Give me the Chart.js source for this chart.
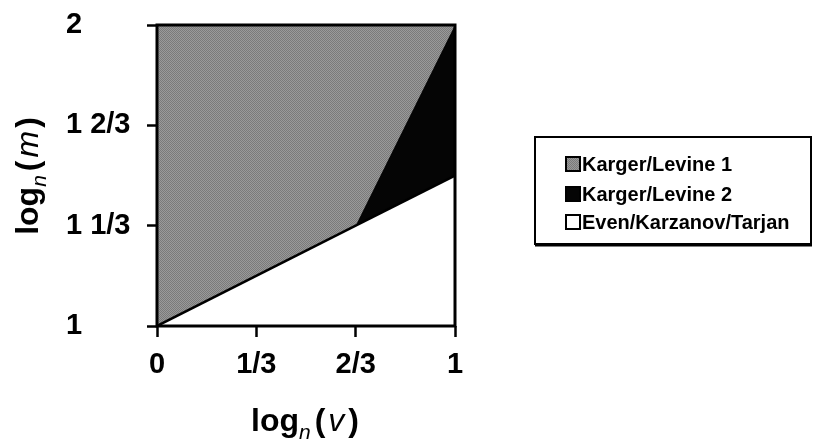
<!DOCTYPE html>
<html>
<head>
<meta charset="utf-8">
<script src="https://cdn.jsdelivr.net/npm/chart.js@4.4.1/dist/chart.umd.min.js"></script>
<style>
  html, body { margin: 0; padding: 0; background: #ffffff; }
  #wrap { width: 840px; height: 447px; }
</style>
</head>
<body>
<div id="wrap"><canvas id="c" width="840" height="447"></canvas></div>
<script>
// Axis ticks
const vTicks = [0, 1/3, 2/3, 1];
const vTickLabels = ['0', '1/3', '2/3', '1'];
const mTicks = [1, 4/3, 5/3, 2];
const mTickLabels = ['1', '1 1/3', '1 2/3', '2'];

// Region names
const seriesNames = ['Karger/Levine 1', 'Karger/Levine 2', 'Even/Karzanov/Tarjan'];

// Upper boundaries of each region: log_n(v) -> log_n(m)
const kl1V = [0, 1];
const kl1M = [2, 2];
const kl2V = [2/3, 1];
const kl2M = [4/3, 2];
const ektV = [0, 2/3, 1];
const ektM = [1, 4/3, 1.5];

const FONT = '"Liberation Sans", Arial, Helvetica, sans-serif';

function toPoints(xs, ys) { return xs.map((x, i) => ({ x: x, y: ys[i] })); }

// stippled gray halftone
function grayPattern() {
  const p = document.createElement('canvas');
  p.width = 2; p.height = 2;
  const g = p.getContext('2d');
  g.fillStyle = '#9a9a9a'; g.fillRect(0, 0, 2, 2);
  g.fillStyle = '#7a7a7a'; g.fillRect(0, 0, 1, 1); g.fillRect(1, 1, 1, 1);
  return g.createPattern(p, 'repeat');
}
const gray = grayPattern();
const swatchFills = [gray, '#050505', '#ffffff'];

const frame = {
  id: 'frame',
  afterDatasetsDraw(chart) {
    const { ctx, chartArea: a } = chart;
    ctx.save();
    ctx.strokeStyle = '#000';
    ctx.lineWidth = 3;
    ctx.strokeRect(a.left, a.top, a.right - a.left, a.bottom - a.top);
    ctx.restore();
  }
};

// draws a run of differently styled pieces centred on x
function drawRich(ctx, parts, x, y) {
  let total = 0;
  parts.forEach(p => { ctx.font = p[1]; total += ctx.measureText(p[0]).width + (p[3] || 0); });
  let cx = x - total / 2;
  parts.forEach(p => {
    ctx.font = p[1];
    ctx.fillText(p[0], cx, y + p[2]);
    cx += ctx.measureText(p[0]).width + (p[3] || 0);
  });
}

const titles = {
  id: 'titles',
  afterDraw(chart) {
    const { ctx } = chart;
    ctx.save();
    ctx.fillStyle = '#000';
    ctx.textBaseline = 'alphabetic';
    ctx.textAlign = 'left';
    const big = 'bold 32px ' + FONT;
    const sub = 'italic 21px ' + FONT;
    const ital = 'italic 32px ' + FONT;
    drawRich(ctx, [['log', big, 0], ['n', sub, 8, 4], ['(', big, 0, 3], ['v', ital, 0, 4], [')', big, 0]], 305, 431);
    ctx.translate(38, 176);
    ctx.rotate(-Math.PI / 2);
    drawRich(ctx, [['log', big, 0], ['n', sub, 8, 4], ['(', big, 0, 3], ['m', ital, 0, 3], [')', big, 0]], 0, 0);
    ctx.restore();
  }
};

const legendBox = {
  id: 'legendBox',
  afterDraw(chart) {
    const { ctx } = chart;
    ctx.save();
    ctx.strokeStyle = '#000';
    ctx.lineWidth = 2;
    ctx.strokeRect(535, 137, 276, 107);
    ctx.lineWidth = 3;
    ctx.beginPath();
    ctx.moveTo(535, 245); ctx.lineTo(812, 245);
    ctx.stroke();
    ctx.font = 'bold 20px ' + FONT;
    ctx.textBaseline = 'middle';
    ctx.textAlign = 'left';
    const rows = [164, 194, 222];
    seriesNames.forEach((name, i) => {
      ctx.fillStyle = swatchFills[i];
      ctx.fillRect(566, rows[i] - 7, 14, 14);
      ctx.lineWidth = 2;
      ctx.strokeStyle = '#000';
      ctx.strokeRect(566, rows[i] - 7, 14, 14);
      ctx.fillStyle = '#000';
      ctx.fillText(name, 582, rows[i] + 1);
    });
    ctx.restore();
  }
};

new Chart(document.getElementById('c'), {
  type: 'line',
  data: {
    datasets: [
      {
        label: seriesNames[2],
        data: toPoints(ektV, ektM),
        order: 1,
        fill: 'start',
        backgroundColor: '#ffffff',
        borderColor: '#000000',
        borderWidth: 2.5,
        pointRadius: 0,
        tension: 0
      },
      {
        label: seriesNames[1],
        data: toPoints(kl2V, kl2M),
        order: 2,
        fill: 'start',
        backgroundColor: '#050505',
        borderColor: 'rgba(0,0,0,0)',
        borderWidth: 0,
        pointRadius: 0,
        tension: 0
      },
      {
        label: seriesNames[0],
        data: toPoints(kl1V, kl1M),
        order: 3,
        fill: 'start',
        backgroundColor: gray,
        borderColor: 'rgba(0,0,0,0)',
        borderWidth: 0,
        pointRadius: 0,
        tension: 0
      }
    ]
  },
  options: {
    responsive: false,
    animation: false,
    devicePixelRatio: 1,
    layout: { padding: { left: 66, right: 385, top: 25, bottom: 0 } },
    plugins: { legend: { display: false }, tooltip: { enabled: false }, title: { display: false } },
    scales: {
      x: {
        type: 'linear',
        min: 0, max: 1,
        afterBuildTicks: s => { s.ticks = vTicks.map(v => ({ value: v })); },
        afterFit: s => { s.height = 121; },
        grid: { drawOnChartArea: false, drawTicks: true, tickLength: 11, tickWidth: 2.5, tickColor: '#000' },
        border: { display: false },
        ticks: {
          autoSkip: false, maxRotation: 0, padding: 11,
          color: '#000',
          font: { family: FONT, size: 29, weight: 'bold' },
          callback: (v, i) => vTickLabels[i]
        }
      },
      y: {
        type: 'linear',
        min: 1, max: 2,
        afterBuildTicks: s => { s.ticks = mTicks.map(v => ({ value: v })); },
        afterFit: s => { s.width = 91; },
        grid: { drawOnChartArea: false, drawTicks: true, tickLength: 10, tickWidth: 2.5, tickColor: '#000' },
        border: { display: false },
        ticks: {
          autoSkip: false, crossAlign: 'far',
          color: '#000',
          font: { family: FONT, size: 29, weight: 'bold' },
          callback: (v, i) => mTickLabels[i]
        }
      }
    }
  },
  plugins: [frame, titles, legendBox]
});
</script>
</body>
</html>
